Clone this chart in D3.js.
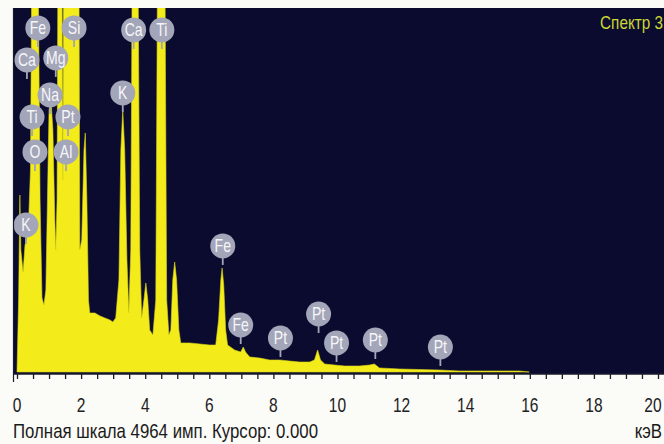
<!DOCTYPE html>
<html><head><meta charset="utf-8">
<script src="https://cdn.jsdelivr.net/npm/d3@7"></script>
<style>
html,body{margin:0;padding:0;background:#fbfbf8;}
svg{display:block;}
</style></head>
<body>
<svg id="chart" width="664" height="444"></svg>
<script>
// Spectrum profile: energy (keV) and counts (imp.)
const energies = [0.00,0.05,0.09,0.12,0.19,0.25,0.31,0.37,0.42,0.47,0.65,0.72,0.78,0.84,0.90,0.95,1.00,1.06,1.12,1.18,1.21,1.25,1.28,1.40,1.43,1.46,1.93,1.96,2.02,2.09,2.13,2.18,2.23,2.27,2.43,2.59,2.74,2.90,2.99,3.08,3.18,3.24,3.30,3.36,3.43,3.49,3.55,3.60,3.77,3.83,3.89,3.96,4.02,4.08,4.14,4.24,4.33,4.39,4.61,4.67,4.74,4.80,4.86,4.92,4.98,5.05,5.11,5.39,5.70,6.01,6.20,6.29,6.36,6.40,6.45,6.51,6.57,6.79,6.98,7.06,7.13,7.26,7.57,7.88,8.19,8.50,8.82,9.13,9.28,9.38,9.47,9.60,9.91,10.22,10.69,11.00,11.15,11.31,11.93,13.18,13.80,15.67,15.98];
const counts = [0,982,2414,1664,1364,1732,1828,2141,2755,6000,6000,2346,1009,914,1118,2346,3574,3710,3301,2073,1664,2346,6000,6000,2619,6000,6000,1664,1800,3028,3260,2346,982,805,805,764,737,709,682,737,1255,3028,3574,3028,1528,805,1664,6000,6000,1664,737,982,1214,982,573,505,982,6000,6000,982,505,573,1255,1500,1255,573,396,396,382,368,368,709,1255,1419,1187,573,368,300,273,341,273,205,191,164,164,150,136,136,164,300,164,109,95,82,82,95,109,55,41,27,14,14,0];

// Peak labels: element, energy (keV), label height (counts)
const labelNames    = ["Fe","Si","Ca","Ti","Ca","Mg","Na","K","Ti","Pt","O","Al","K","Fe","Fe","Pt","Pt","Pt","Pt","Pt"];
const labelEnergies = [0.65,1.78,3.64,4.52,0.31,1.21,1.03,3.30,0.47,1.59,0.56,1.53,0.28,6.42,6.98,8.22,9.41,9.97,11.18,13.21];
const labelCounts   = [4692,4692,4665,4665,4256,4283,3778,3806,3478,3478,3001,3001,2005,1719,641,464,791,396,436,341];

const xTicks = [0,2,4,6,8,10,12,14,16,18,20];
const fullScale = 4964;
const spectrumName = "Спектр 3";
const footer = "Полная шкала 4964 имп. Курсор: 0.000";
const unit = "кэВ";

const svg = d3.select("#chart");
const font = "'Liberation Sans',Arial,sans-serif";

const x = d3.scaleLinear().domain([0,20]).range([17,658]);
const y = d3.scaleLinear().domain([0,fullScale]).range([372,8]);

const plotL = 13, plotT = 8, plotR = 664, plotB = 374;

// condensed text helper
function ctext(parent, tx, ty, str, size, fill, anchor, sx){
  return parent.append("text")
    .attr("transform",`translate(${tx},${ty}) scale(${sx||0.8},1)`)
    .attr("text-anchor",anchor||"start")
    .attr("font-family",font).attr("font-size",size).attr("fill",fill).text(str);
}

svg.append("defs").append("clipPath").attr("id","clip")
  .append("rect").attr("x",plotL).attr("y",plotT).attr("width",plotR-plotL).attr("height",plotB-plotT);

svg.append("rect").attr("x",plotL).attr("y",plotT).attr("width",plotR-plotL).attr("height",plotB-plotT)
  .attr("fill","#0b0b30");

const data = energies.map((e,i)=>({e, c:counts[i]}));
const area = d3.area().x(d=>x(d.e)).y0(y(0)).y1(d=>y(d.c));
svg.append("path").datum(data).attr("clip-path","url(#clip)")
  .attr("d",area).attr("fill","#f3ec1a").attr("stroke","#d8d418").attr("stroke-width",0.6);

// peak labels
const lab = svg.append("g").attr("clip-path","url(#clip)");
labelNames.forEach((n,i)=>{
  const cx = x(labelEnergies[i]), cy = y(labelCounts[i]);
  const g = lab.append("g");
  g.append("line").attr("x1",cx).attr("x2",cx).attr("y1",cy).attr("y2",cy+19)
    .attr("stroke","#a3a5b8").attr("stroke-width",1.8);
  g.append("circle").attr("cx",cx).attr("cy",cy).attr("r",12.5).attr("fill","#a3a5b8");
  ctext(g, cx, cy+6, n, 18, "#f6f6f8", "middle", 0.78);
});

// spectrum name
ctext(svg, 663, 29, spectrumName, 18, "#cbd834", "end", 0.85);

// axis
const axis = d3.axisBottom(x).tickValues(d3.range(0,20.01,0.5)).tickSize(5).tickFormat("");
const ag = svg.append("g").attr("transform",`translate(0,${plotB})`).call(axis);
ag.select(".domain").attr("stroke","#1a1a2a").attr("stroke-width",1.6).attr("d",`M${plotL},0H${plotR}`);
ag.selectAll(".tick line").attr("stroke","#1a1a2a").attr("stroke-width",1.3);
svg.append("line").attr("x1",plotL+0.5).attr("x2",plotL+0.5).attr("y1",plotT).attr("y2",plotB+8)
  .attr("stroke","#1a1a2a").attr("stroke-width",1.2);

const tl = svg.append("g");
xTicks.forEach(d=>{
  ctext(tl, Math.min(x(d), 653), 412, d, 21, "#222", "middle", 0.74);
});

ctext(svg, 13, 438, footer, 20.5, "#1a1a1a", "start", 0.82);
ctext(svg, 662, 438, unit, 20.5, "#1a1a1a", "end", 0.82);
</script>
</body></html>
